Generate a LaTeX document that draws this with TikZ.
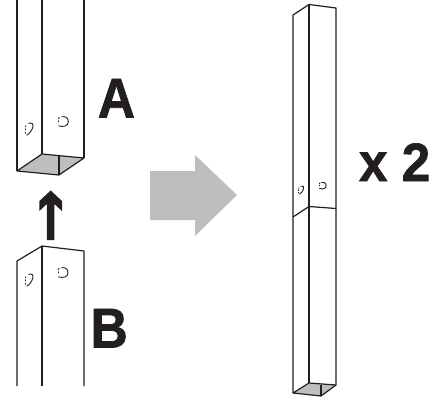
\documentclass[tikz,border=0pt]{standalone}
\usepackage{graphicx}
\usepackage{fontspec}
\setmainfont{Liberation Sans}
\newfontfamily\heavy[FakeBold=1.3]{Liberation Sans Bold}
\definecolor{ink}{HTML}{231F20}
\definecolor{fillgrey}{HTML}{BCBEC0}
\tikzset{
  x=1pt,y=-1pt,
  edge/.style={draw=ink,line width=1.2pt,line join=round,line cap=butt},
  floor/.style={fill=fillgrey,draw=ink,line width=1.2pt,line join=round},
  letter/.style={inner sep=0pt,anchor=base west,text=ink,font=\fontsize{56}{56}\selectfont\heavy},
  holeline/.style={draw=ink,line width=.9pt,line cap=round},
  pics/holeR/.style={code={
    \draw[holeline] (-1.5,-4.9) .. controls (1.5,-5.4) and (5,-4.8) .. (5,0) .. controls (5,4.6) and (0,5.4) .. (-4.6,4.2);
    \draw[holeline] (-4.8,-3.2) -- (-4,-4.2);
    \draw[holeline] (-4.9,-.8) -- (-4.9,.2);
  }},
  pics/holeL/.style={code={
    \draw[holeline] (-.2,-5.6) .. controls (3,-6.8) and (4.8,-5) .. (3.7,-1.5) .. controls (2.7,2) and (0,5) .. (-2.2,6);
    \draw[holeline] (-3.2,-3.4) -- (-3.4,-2.4);
    \draw[holeline] (-3.8,-.2) -- (-3.8,.9);
    \draw[holeline] (-3.8,3.4) -- (-3.5,4.3);
  }}
}
\begin{document}
\begin{tikzpicture}
\useasboundingbox (0,0) rectangle (442,402);
% piece A
\draw[floor] (17,171) -- (42,154) -- (84,158) -- (59,175) -- cycle;
\draw[edge] (59,155.5) -- (59,175);
\draw[edge] (17,0) -- (17,171);
\draw[edge] (42,0) -- (42,154);
\draw[edge] (84,0) -- (84,158);
\pic at (63.3,121.7) {holeR};
\pic at (29,129) {holeL};
% piece B
\draw[edge] (17,386) -- (17,261) -- (42,246) -- (84,251) -- (84,386);
\draw[edge] (42,246) -- (42,386);
\pic at (63,272.7) {holeR};
\pic at (29,280) {holeL};
% assembled post
\draw[floor] (293,393) -- (309,383) -- (336,385) -- (321,396) -- cycle;
\draw[edge] (321,384.5) -- (321,396);
\draw[edge] (293,393) -- (293,15) -- (309,4.5) -- (336,8) -- (336,385);
\draw[edge] (309,4.5) -- (309,383);
\draw[edge] (293,217) -- (309,206.5) -- (336,208.5);
\pic[scale=.68] at (322.7,185.7) {holeR};
\pic[scale=.68] at (301,190) {holeL};
% arrows
\fill[fillgrey] (150,171) -- (195,171) -- (195,155) -- (237,195) -- (195,236) -- (195,220) -- (150,220) -- cycle;
\fill[ink] (50.7,190.5) -- (62,201) -- (62,211) -- (54.4,204) -- (54.4,240) -- (46.8,240) -- (46.8,204) -- (39.4,211) -- (39.4,201) -- cycle;
% labels
\node[letter] (la) at (97.6,117.5) {\scalebox{.92}[1]{A}};
\node[letter] (lb) at (90.4,347.5) {\scalebox{.92}[1]{B}};
\node[letter,font=\fontsize{54}{54}\selectfont\heavy] (lx) at (358.8,181) {\scalebox{.95}[1]{x 2}};
\end{tikzpicture}
\end{document}
